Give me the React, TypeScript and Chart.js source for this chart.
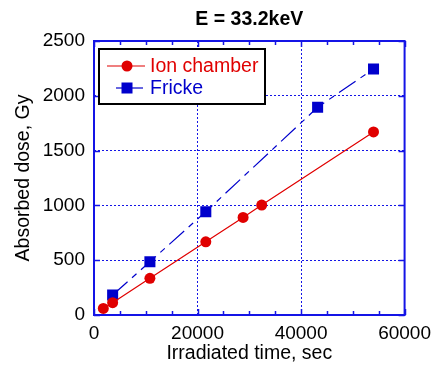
import React, { useEffect, useRef } from "react";
import { Chart, registerables } from "chart.js";

Chart.register(...registerables);

const chartTitle = "E = 33.2keV";
const xTitle = "Irradiated time, sec";
const yTitle = "Absorbed dose, Gy";

const ionLabel = "Ion chamber";
const ionTimes = [1800, 3600, 10800, 21600, 28800, 32400, 54000];
const ionDose = [60, 112, 335, 668, 890, 1003, 1670];

const frickeLabel = "Fricke";
const frickeTimes = [3600, 10800, 21600, 43200, 54000];
const frickeDose = [182, 486, 943, 1895, 2245];

const xTickValues = [0, 20000, 40000, 60000];
const xMinorStep = 5000;
const yTickValues = [0, 500, 1000, 1500, 2000, 2500];

const RED = "#e00000";
const BLUE = "#0000cc";
const FRAME = "#1414e6";
const FONT = "'Liberation Sans', Arial, sans-serif";

const framePlugin = {
  id: "frame",
  afterDatasetsDraw(chart: any) {
    const { ctx, chartArea: a, scales } = chart;
    const xs = scales.x;
    const ys = scales.y;
    ctx.save();
    ctx.strokeStyle = FRAME;
    ctx.lineWidth = 1.5;
    for (let v = xs.min; v <= xs.max; v += xMinorStep) {
      const px = Math.round(xs.getPixelForValue(v)) + 0.5;
      const major = xTickValues.includes(v);
      const len = major ? 6 : 4;
      ctx.beginPath();
      ctx.moveTo(px, a.bottom);
      ctx.lineTo(px, a.bottom - len);
      ctx.moveTo(px, a.top);
      ctx.lineTo(px, a.top + len);
      ctx.stroke();
    }
    for (const v of yTickValues) {
      const py = Math.round(ys.getPixelForValue(v)) + 0.5;
      ctx.beginPath();
      ctx.moveTo(a.left, py);
      ctx.lineTo(a.left + 6, py);
      ctx.moveTo(a.right, py);
      ctx.lineTo(a.right - 6, py);
      ctx.stroke();
    }
    ctx.lineWidth = 2;
    ctx.strokeRect(a.left, a.top, a.right - a.left, a.bottom - a.top);
    ctx.restore();
  },
  afterDraw(chart: any) {
    const { ctx, chartArea: a } = chart;
    ctx.save();
    ctx.fillStyle = "#000";
    ctx.font = `bold 19.5px ${FONT}`;
    ctx.textAlign = "center";
    ctx.textBaseline = "middle";
    ctx.fillText(chartTitle, (a.left + a.right) / 2, 20);

    const bx = a.left + 5;
    const by = a.top + 8;
    const bw = 166;
    const bh = 55;
    ctx.fillStyle = "#fff";
    ctx.fillRect(bx, by, bw, bh);
    ctx.strokeStyle = "#000";
    ctx.lineWidth = 2;
    ctx.strokeRect(bx, by, bw, bh);

    const ds = chart.data.datasets;
    const rows = [by + 17, by + 39];
    ds.forEach((d: any, i: number) => {
      const y = rows[i];
      const cx = bx + 28;
      ctx.strokeStyle = d.borderColor;
      ctx.lineWidth = 1.2;
      ctx.beginPath();
      if (i === 0) {
        ctx.moveTo(bx + 8, y);
        ctx.lineTo(bx + 46, y);
      } else {
        ctx.moveTo(bx + 17, y);
        ctx.lineTo(bx + 44, y);
      }
      ctx.stroke();
      ctx.fillStyle = d.backgroundColor;
      if (d.pointStyle === "circle") {
        ctx.beginPath();
        ctx.arc(cx, y, 5.5, 0, Math.PI * 2);
        ctx.fill();
      } else {
        ctx.fillRect(cx - 5.5, y - 5.5, 11, 11);
      }
      ctx.fillStyle = d.borderColor;
      ctx.font = `19.5px ${FONT}`;
      ctx.textAlign = "left";
      ctx.textBaseline = "middle";
      ctx.fillText(d.label, bx + 51, y + 1);
    });
    ctx.restore();
  },
};

export default function App() {
  const ref = useRef<HTMLCanvasElement | null>(null);
  useEffect(() => {
    if (!ref.current) return;
    const chart = new Chart(ref.current, {
      type: "line",
      data: {
        datasets: [
          {
            label: ionLabel,
            data: ionTimes.map((t, i) => ({ x: t, y: ionDose[i] })),
            borderColor: RED,
            backgroundColor: RED,
            borderWidth: 1.2,
            pointStyle: "circle",
            pointRadius: 5.5,
            pointBorderWidth: 0,
            pointHoverRadius: 5.5,
            tension: 0,
          },
          {
            label: frickeLabel,
            data: frickeTimes.map((t, i) => ({ x: t, y: frickeDose[i] })),
            borderColor: BLUE,
            backgroundColor: BLUE,
            borderWidth: 1.2,
            borderDash: [20, 6, 6, 6],
            pointStyle: "rect",
            pointRadius: 7.8,
            pointBorderWidth: 0,
            pointHoverRadius: 7.8,
            tension: 0,
          },
        ],
      } as any,
      options: {
        responsive: false,
        animation: false,
        layout: { padding: { top: 41, right: 30, left: 0, bottom: 0 } },
        plugins: {
          legend: { display: false },
          title: { display: false },
          tooltip: { enabled: false },
        },
        scales: {
          x: {
            type: "linear",
            min: 0,
            max: 60000,
            afterBuildTicks: (s: any) => {
              s.ticks = xTickValues.map((v) => ({ value: v }));
            },
            afterFit: (s: any) => {
              s.height = 50;
            },
            ticks: {
              color: "#000",
              font: { family: FONT, size: 19 },
              padding: 7,
              maxRotation: 0,
              callback: (v: any) => String(v),
            },
            grid: { color: FRAME, drawTicks: false, lineWidth: 1 },
            border: { display: false, dash: [2, 2] },
            title: {
              display: true,
              text: xTitle,
              color: "#000",
              font: { family: FONT, size: 19.5 },
              padding: { top: 0, bottom: 0 },
            },
          },
          y: {
            type: "linear",
            min: 0,
            max: 2500,
            afterBuildTicks: (s: any) => {
              s.ticks = yTickValues.map((v) => ({ value: v }));
            },
            afterFit: (s: any) => {
              s.width = 94;
            },
            ticks: {
              color: "#000",
              font: { family: FONT, size: 19 },
              padding: 9,
              callback: (v: any) => String(v),
            },
            grid: { color: FRAME, drawTicks: false, lineWidth: 1 },
            border: { display: false, dash: [2, 2] },
            title: {
              display: true,
              text: yTitle,
              color: "#000",
              font: { family: FONT, size: 19.5 },
              padding: { top: 12, bottom: 0 },
            },
          },
        },
      } as any,
      plugins: [framePlugin],
    });
    return () => chart.destroy();
  }, []);
  return (
    <div style={{ position: "fixed", left: 0, top: 0, width: 438, height: 365, background: "#fff" }}>
      <canvas ref={ref} width={438} height={365} />
    </div>
  );
}
